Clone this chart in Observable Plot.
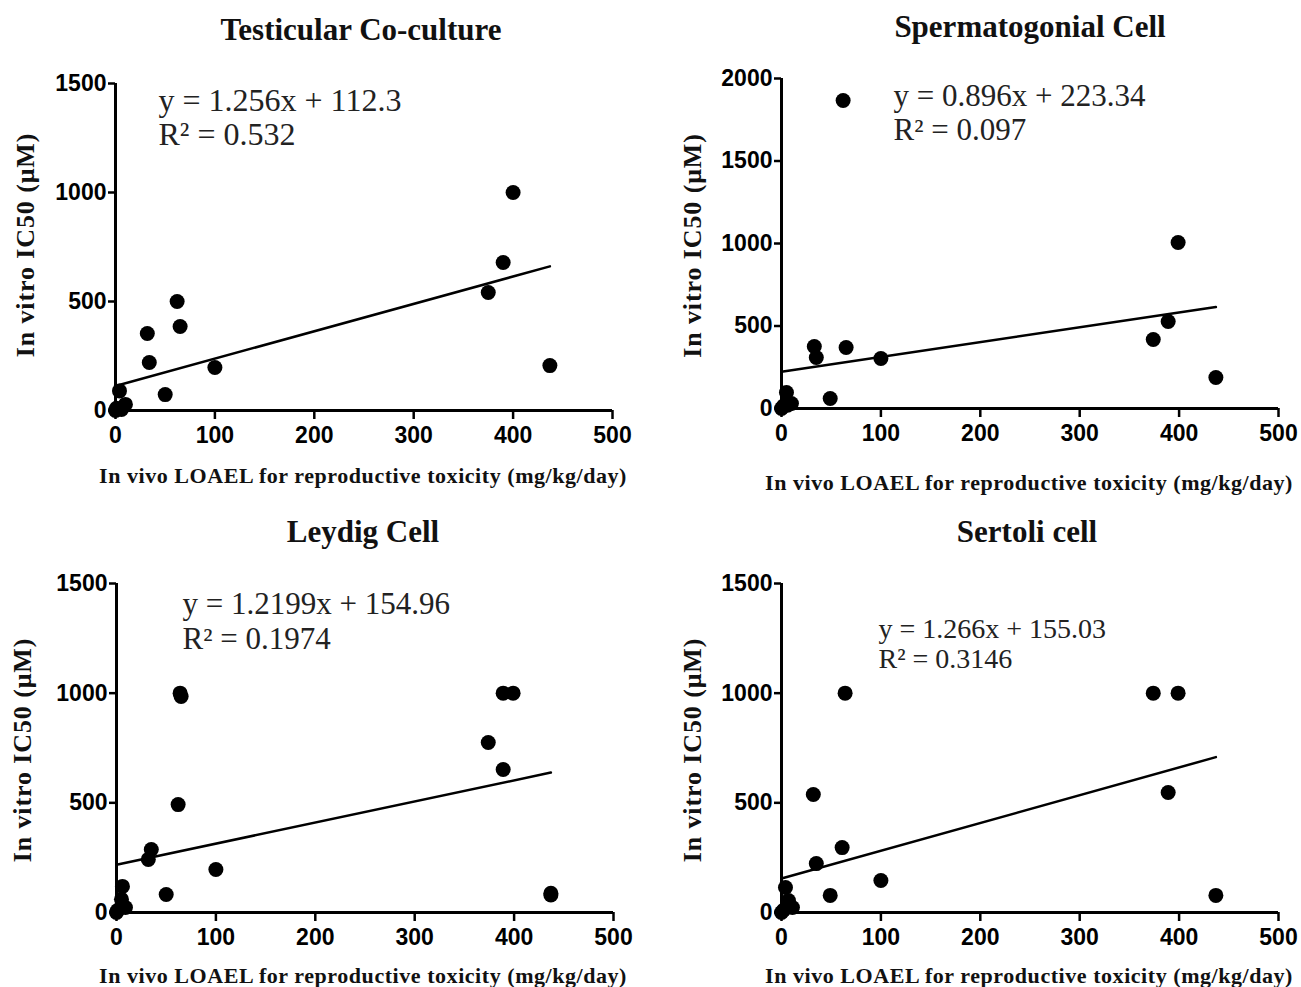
<!DOCTYPE html>
<html><head><meta charset="utf-8">
<script src="https://cdn.jsdelivr.net/npm/d3@7"></script>
<script src="https://cdn.jsdelivr.net/npm/@observablehq/plot@0.6"></script>
<style>
body{margin:0;background:#fff;}
#wrap{position:relative;width:1301px;height:987px;background:#fff;}
.panel{position:absolute;}
</style></head><body><div id="wrap"></div>
<script>
// ---- data ----
const titles = ["Testicular Co-culture", "Spermatogonial Cell", "Leydig Cell", "Sertoli cell"];
const xLabel = "In vivo LOAEL for reproductive toxicity (mg/kg/day)";
const yLabel = "In vitro IC50 (\u03bcM)";
const xTicks = [0, 100, 200, 300, 400, 500];
const yTicks1500 = [0, 500, 1000, 1500];
const yTicks2000 = [0, 500, 1000, 1500, 2000];

const coX = [0, 1, 4, 6, 10, 50, 32, 34, 62, 65, 100, 375, 390, 400, 437];
const coY = [0, 10, 90, 5, 28, 73, 353, 220, 500, 385, 197, 541, 679, 1000, 206];
const spX = [0, 2, 5, 6, 10, 49, 33, 35, 65, 62, 100, 374, 389, 399, 437];
const spY = [0, 15, 97, 20, 30, 61, 376, 309, 370, 1867, 303, 418, 527, 1006, 188];
const leX = [0, 1, 5, 6, 9, 50, 32, 35, 62, 64, 65, 100, 374, 389, 389, 399, 437, 437];
const leY = [0, 9, 60, 119, 23, 82, 242, 287, 492, 1000, 985, 196, 775, 652, 1000, 1000, 80, 88];
const seX = [0, 2, 4, 7, 11, 49, 32, 35, 61, 64, 100, 374, 389, 399, 437];
const seY = [0, 10, 114, 55, 23, 78, 538, 223, 296, 1000, 146, 1000, 547, 1000, 78];

// drawn regression lines: [intercept, slope]
const fitCo = [112.3, 1.256];
const fitSp = [223.34, 0.896];
const fitLe = [218, 0.961];
const fitSe = [155.03, 1.266];

const eqs = [
  ["y = 1.256x + 112.3", "R\u00b2 = 0.532"],
  ["y = 0.896x + 223.34", "R\u00b2 = 0.097"],
  ["y = 1.2199x + 154.96", "R\u00b2 = 0.1974"],
  ["y = 1.266x + 155.03", "R\u00b2 = 0.3146"]
];

// ---- layout ----
const panels = [
  {x: coX, y: coY, fit: fitCo, title: titles[0], eq: eqs[0], yMax: 1500, yTicks: yTicks1500,
   left: 0, top: 0, width: 650, height: 500, mL: 115, mR: 38, mT: 83, mB: 90,
   tDx: -3, tDy: -53, eDx: 43, eDy: [17, 51], eFs: 32, yDx: -90, yDy: -2, xDy: 65, xDx: -1},
  {x: spX, y: spY, fit: fitSp, title: titles[1], eq: eqs[1], yMax: 2000, yTicks: yTicks2000,
   left: 650, top: 0, width: 651, height: 500, mL: 131, mR: 23, mT: 78, mB: 92,
   tDx: 0, tDy: -51, eDx: 112, eDy: [18, 52], eFs: 31, yDx: -89, yDy: 2, xDy: 74, xDx: -1},
  {x: leX, y: leY, fit: fitLe, title: titles[2], eq: eqs[2], yMax: 1500, yTicks: yTicks1500,
   left: 0, top: 500, width: 650, height: 487, mL: 116, mR: 37, mT: 83, mB: 75,
   tDx: -2, tDy: -51, eDx: 66, eDy: [21, 56], eFs: 31, yDx: -94, yDy: 2, xDy: 63, xDx: -2},
  {x: seX, y: seY, fit: fitSe, title: titles[3], eq: eqs[3], yMax: 1500, yTicks: yTicks1500,
   left: 650, top: 500, width: 651, height: 487, mL: 131, mR: 23, mT: 83, mB: 75,
   tDx: -3, tDy: -51, eDx: 97, eDy: [46, 76], eFs: 28, yDx: -89, yDy: 2, xDy: 63, xDx: -1}
];

const serif = "Liberation Serif, Times New Roman, serif";
const sans = "Liberation Sans, Arial, sans-serif";
const wrap = document.getElementById("wrap");

for (const p of panels) {
  const data = p.x.map((x, i) => ({x, y: p.y[i]}));
  const xmax = d3.max(p.x);
  const line = [0, xmax].map(x => ({x, y: p.fit[0] + p.fit[1] * x}));
  const svg = Plot.plot({
    width: p.width, height: p.height,
    marginLeft: p.mL, marginRight: p.mR, marginTop: p.mT, marginBottom: p.mB,
    style: {background: "white", color: "black", overflow: "visible"},
    x: {domain: [0, 500]},
    y: {domain: [0, p.yMax]},
    marks: [
      Plot.axisX({ticks: xTicks, tickFormat: "d", tickSize: 9, tickPadding: 7, strokeWidth: 2.5,
        fontSize: 23, fontWeight: "bold", fontFamily: sans, label: null}),
      Plot.axisY({ticks: p.yTicks, tickFormat: "d", tickSize: 7, tickPadding: 2, strokeWidth: 2.5,
        fontSize: 23, fontWeight: "bold", fontFamily: sans, label: null}),
      Plot.ruleY([0], {strokeWidth: 3}),
      Plot.ruleX([0], {strokeWidth: 3}),
      Plot.line(line, {x: "x", y: "y", strokeWidth: 2.5, stroke: "black"}),
      Plot.dot(data, {x: "x", y: "y", r: 7.5, fill: "black"}),
      Plot.text([p.title], {frameAnchor: "top", dx: p.tDx, dy: p.tDy, text: d => d,
        fontSize: 31, fontWeight: "bold", fontFamily: serif, lineAnchor: "middle", fill: "#111"}),
      Plot.text([p.eq[0]], {frameAnchor: "top-left", dx: p.eDx, dy: p.eDy[0], text: d => d,
        fontSize: p.eFs, fontFamily: serif, textAnchor: "start", lineAnchor: "middle", fill: "#222"}),
      Plot.text([p.eq[1]], {frameAnchor: "top-left", dx: p.eDx, dy: p.eDy[1], text: d => d,
        fontSize: p.eFs, fontFamily: serif, textAnchor: "start", lineAnchor: "middle", fill: "#222"}),
      Plot.text([yLabel], {frameAnchor: "left", dx: p.yDx, dy: p.yDy, rotate: -90, text: d => d,
        textAnchor: "middle", fontSize: 26, fontWeight: "bold", fontFamily: serif, lineAnchor: "middle", fill: "#111"}),
      Plot.text([xLabel], {frameAnchor: "bottom", dx: p.xDx, dy: p.xDy, text: d => d,
        textAnchor: "middle", fontSize: 22, fontWeight: "bold", fontFamily: serif, lineAnchor: "middle", fill: "#111"})
    ]
  });
  d3.select(svg).selectAll("text").each(function() {
    const t = this.textContent;
    if (t === xLabel) d3.select(this).attr("letter-spacing", "0.55px");
    if (t === yLabel) d3.select(this).attr("letter-spacing", "0.9px");
  });
  svg.classList.add("panel");
  svg.style.left = p.left + "px";
  svg.style.top = p.top + "px";
  svg.style.position = "absolute";
  wrap.appendChild(svg);
}
</script></body></html>
